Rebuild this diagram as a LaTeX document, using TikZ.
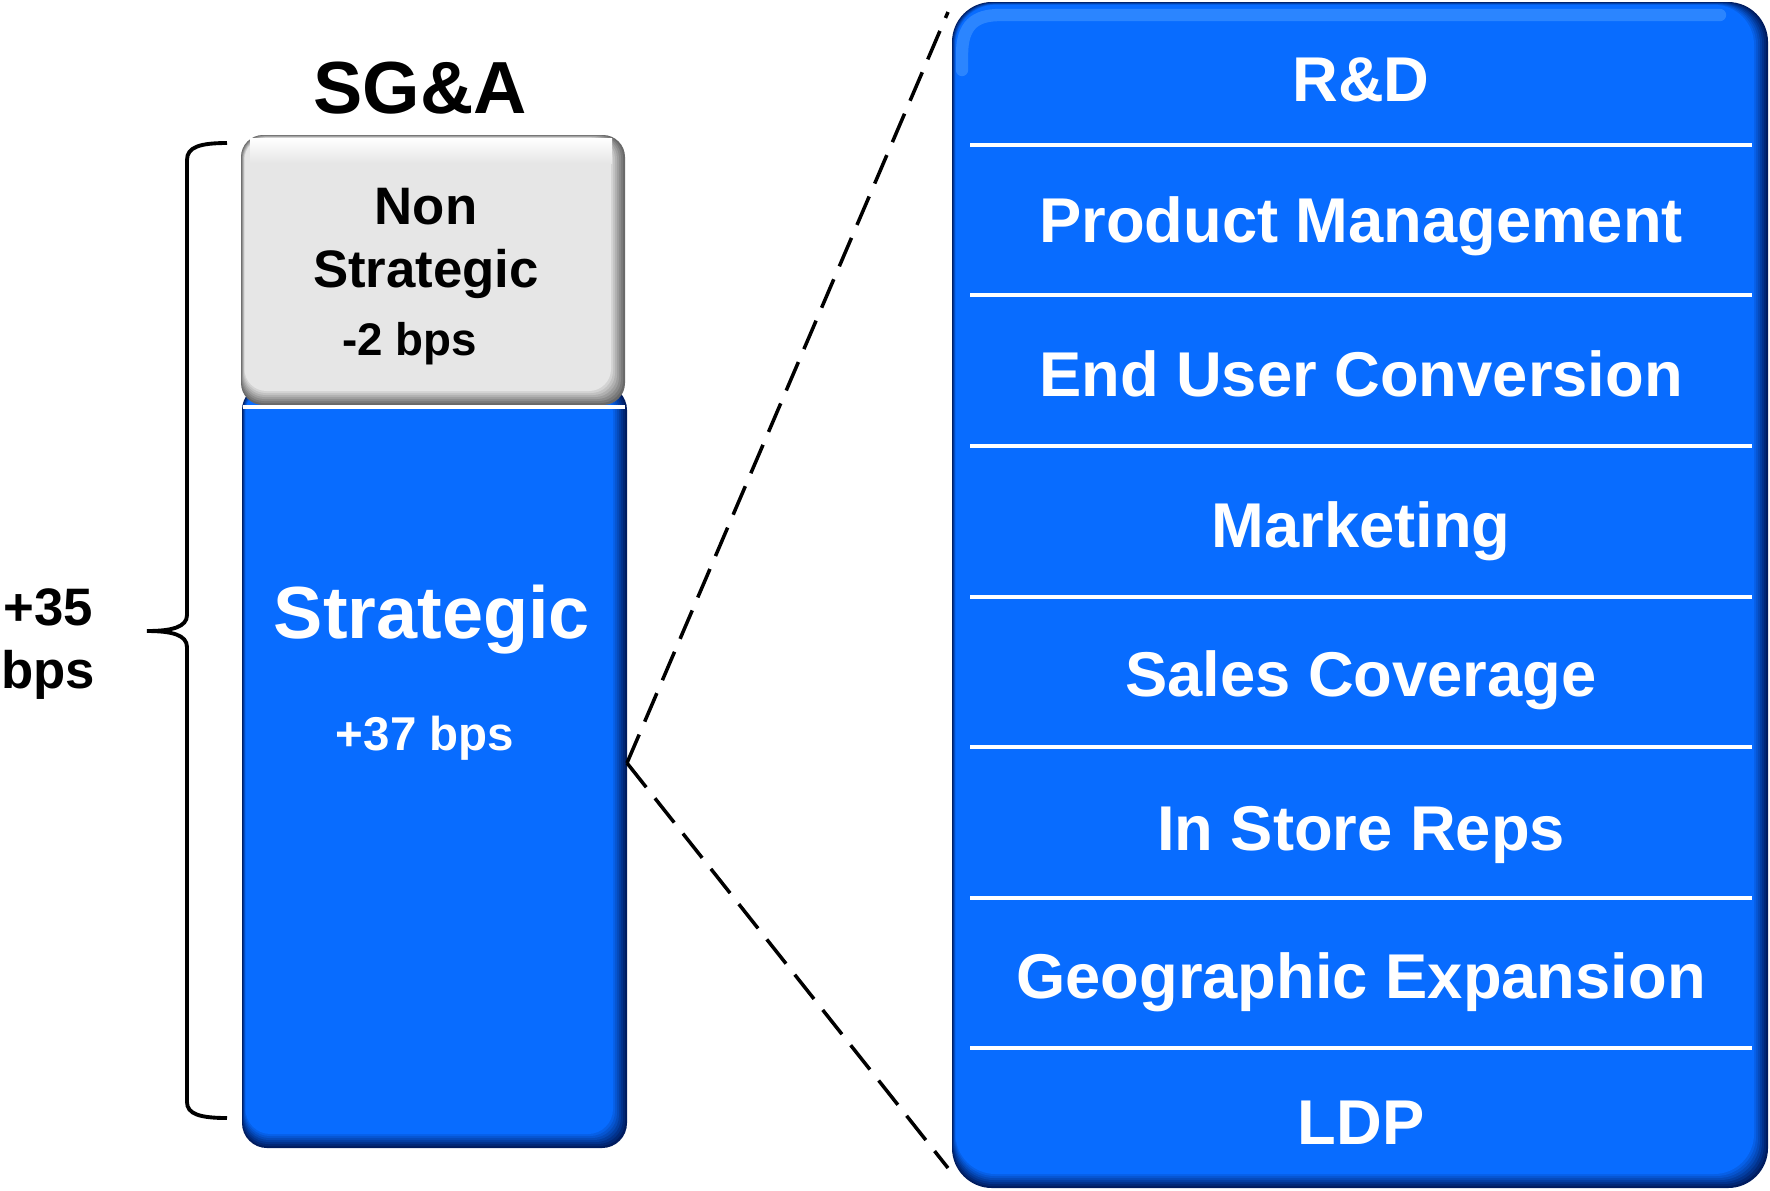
\documentclass[tikz,border=0pt]{standalone}
\usepackage{fontspec}
\setmainfont{Liberation Sans}
\usetikzlibrary{calc,positioning}
\definecolor{panelblue}{RGB}{8,108,255}
\definecolor{paneldark}{RGB}{0,28,95}
\definecolor{panellight}{RGB}{110,180,255}
\definecolor{boxgrey}{RGB}{230,230,230}
\definecolor{greydark}{RGB}{105,105,105}
% filled box with a soft darker edge on the right and the bottom
\newcommand{\bevelfill}[7]{%
  \fill[#7, rounded corners=#5] (#1,#2) rectangle (#3,#4);
  \foreach \k in {1,...,7}{
    \pgfmathtruncatemacro\mixk{\k*100/7}
    \fill[#6!\mixk!#7, rounded corners=#5] (#1+0.5*\k,#2+0.4*\k) rectangle (#3-2*\k,#4-2*\k);
  }
}
\tikzset{
  titlelabel/.style={anchor=base, font=\fontsize{21}{25}\selectfont\bfseries},
  greylabel/.style={anchor=base, font=\fontsize{15}{18}\selectfont\bfseries},
  greyvalue/.style={anchor=base, font=\fontsize{13}{16}\selectfont\bfseries},
  biglabel/.style={anchor=base, text=white, font=\fontsize{21}{25}\selectfont\bfseries},
  smallvalue/.style={anchor=base, text=white, font=\fontsize{13.5}{16}\selectfont\bfseries},
  sidelabel/.style={anchor=base, font=\fontsize{15}{18}\selectfont\bfseries},
  sublabel/.style={anchor=base, text=white, font=\fontsize{18}{22}\selectfont\bfseries},
  sepline/.style={draw=white, line width=1.2pt},
  zoomline/.style={draw, line width=1pt, dash pattern=on 8.8pt off 4pt},
  bracket/.style={draw, line width=1.1pt},
  glint/.style={draw=panellight, line width=3.5pt, opacity=.35, line cap=round},
}
\begin{document}
\begin{tikzpicture}[x=0.01cm, y=-0.01cm]
  \useasboundingbox (0,0) rectangle (1770,1190);
  % SG&A column
  \bevelfill{242}{385}{627}{1148}{0.25cm}{panelblue}{paneldark}
  \bevelfill{241}{135}{625}{405}{0.22cm}{boxgrey}{greydark}
  \fill[top color=white, bottom color=boxgrey] (250,138) rectangle (612,163);
  \fill[white] (243,405) rectangle (625,409);
  \node[titlelabel] (sga) at (420,113) {SG\&A};
  \node[greylabel] (non) at (426,224) {Non};
  \node[greylabel] (nonstrat) at (426,287) {Strategic};
  \node[greyvalue] (nonbps) at (410,355) {-2 bps};
  \node[biglabel] (strat) at (432,638) {Strategic};
  \node[smallvalue] (stratbps) at (425,750) {+37 bps};
  % brace and total
  \draw[bracket] (227,143) .. controls (200,143) and (187,147) .. (187,160)
    -- (187,615) .. controls (187,627) and (172,631) .. (147,631)
    .. controls (172,631) and (187,635) .. (187,647)
    -- (187,1102) .. controls (187,1114) and (200,1118) .. (227,1118);
  \node[sidelabel] (total) at (48,625) {+35};
  \node[sidelabel] (totalbps) at (48,688) {bps};
  % breakdown panel
  \bevelfill{952}{2}{1768}{1188}{0.4cm}{panelblue}{paneldark}
  \draw[glint] (962,70) -- (962,55) .. controls (962,25) and (975,15) .. (1000,15) -- (1720,15);
  \foreach \y in {145,295,446,597,747,898,1048}
    \draw[sepline] (970,\y) -- (1752,\y);
  \node[sublabel] (rnd) at (1361,101) {R\&D};
  \node[sublabel] (prodmgmt) at (1361,242) {Product Management};
  \node[sublabel] (enduser) at (1361,396) {End User Conversion};
  \node[sublabel] (marketing) at (1361,547) {Marketing};
  \node[sublabel] (sales) at (1361,696) {Sales Coverage};
  \node[sublabel] (instore) at (1361,850) {In Store Reps};
  \node[sublabel] (geo) at (1361,998) {Geographic Expansion};
  \node[sublabel] (ldp) at (1361,1144) {LDP};
  % zoom lines
  \coordinate (apex) at (627,763);
  \coordinate (zoomtop) at (948,12);
  \coordinate (zoombot) at (948,1168);
  \draw[zoomline] (apex) -- (zoomtop);
  \draw[zoomline] (apex) -- (zoombot);
\end{tikzpicture}
\end{document}
